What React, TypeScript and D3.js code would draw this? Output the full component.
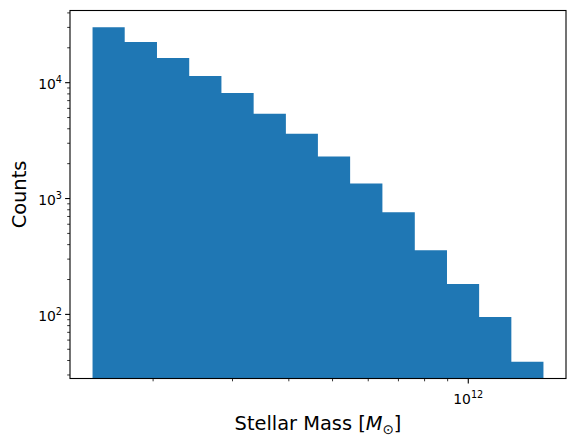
import * as d3 from "d3";

// histogram bin edges (solar masses), log-spaced
const BIN_EDGES = [
  1.468e11, 1.73e11, 2.04e11, 2.405e11, 2.835e11, 3.342e11, 3.94e11, 4.64e11,
  5.47e11, 6.45e11, 7.61e11, 8.97e11, 1.057e12, 1.246e12, 1.468e12,
];
// counts per bin
const COUNTS = [
  30100, 22400, 16300, 11400, 8150, 5380, 3630, 2300, 1350, 760, 358, 183, 95, 39,
];

const X_MAJOR = [1e12];
const X_MAJOR_EXP = ["12"];
const X_MINOR = [2e11, 3e11, 4e11, 5e11, 6e11, 7e11, 8e11, 9e11];
const Y_MAJOR = [1e2, 1e3, 1e4];
const Y_MAJOR_EXP = ["2", "3", "4"];
const Y_MINOR = [
  30, 40, 50, 60, 70, 80, 90, 200, 300, 400, 500, 600, 700, 800, 900, 2000,
  3000, 4000, 5000, 6000, 7000, 8000, 9000, 20000, 30000, 40000,
];

const W = 575;
const H = 445;
const LEFT = 70;
const RIGHT = 566;
const TOP = 10.5;
const BOTTOM = 378.5;
const BLUE = "#1f77b4";
const FONT = "'DejaVu Sans', sans-serif";

// matplotlib-style 5% margins in log space
function logDomain(lo: number, hi: number): [number, number] {
  const a = Math.log10(lo);
  const b = Math.log10(hi);
  const m = (b - a) * 0.05;
  return [10 ** (a - m), 10 ** (b + m)];
}

export default function App() {
  const x = d3
    .scaleLog()
    .domain(logDomain(BIN_EDGES[0], BIN_EDGES[BIN_EDGES.length - 1]))
    .range([LEFT, RIGHT]);
  const y = d3
    .scaleLog()
    .domain(logDomain(d3.min(COUNTS)!, d3.max(COUNTS)!))
    .range([BOTTOM, TOP]);

  const yMinorIn = Y_MINOR.filter((v) => y(v) <= BOTTOM && y(v) >= TOP);

  // one outline path for the whole histogram, so no seams between bars
  const path = d3.path();
  path.moveTo(x(BIN_EDGES[0]), BOTTOM);
  COUNTS.forEach((c, i) => {
    path.lineTo(x(BIN_EDGES[i]), y(c));
    path.lineTo(x(BIN_EDGES[i + 1]), y(c));
  });
  path.lineTo(x(BIN_EDGES[BIN_EDGES.length - 1]), BOTTOM);
  path.closePath();

  return (
    <svg
      width={W}
      height={H}
      style={{ position: "absolute", left: 0, top: 0, background: "#fff" }}
      fontFamily={FONT}
    >
      {/* bars */}
      <path d={path.toString()} fill={BLUE} />

      {/* frame */}
      <rect
        x={LEFT}
        y={TOP}
        width={RIGHT - LEFT}
        height={BOTTOM - TOP}
        fill="none"
        stroke="#000"
        strokeWidth={1.1}
      />

      {/* x ticks */}
      {X_MINOR.map((v) => (
        <line key={v} x1={x(v)} x2={x(v)} y1={BOTTOM} y2={BOTTOM + 2.8} stroke="#000" strokeWidth={0.8} />
      ))}
      {X_MAJOR.map((v, i) => (
        <g key={v}>
          <line x1={x(v)} x2={x(v)} y1={BOTTOM} y2={BOTTOM + 4.9} stroke="#000" strokeWidth={1.1} />
          <text x={x(v)} y={BOTTOM + 25} textAnchor="middle" fontSize={13.9} fill="#000">
            10
            <tspan fontSize={9.7} dy={-6}>
              {X_MAJOR_EXP[i]}
            </tspan>
          </text>
        </g>
      ))}

      {/* y ticks */}
      {yMinorIn.map((v) => (
        <line key={v} x1={LEFT} x2={LEFT - 2.8} y1={y(v)} y2={y(v)} stroke="#000" strokeWidth={0.8} />
      ))}
      {Y_MAJOR.map((v, i) => (
        <g key={v}>
          <line x1={LEFT} x2={LEFT - 4.9} y1={y(v)} y2={y(v)} stroke="#000" strokeWidth={1.1} />
          <text x={LEFT - 8} y={y(v) + 6.5} textAnchor="end" fontSize={13.9} fill="#000">
            10
            <tspan fontSize={9.7} dy={-6}>
              {Y_MAJOR_EXP[i]}
            </tspan>
          </text>
        </g>
      ))}

      {/* axis labels */}
      <text
        x={(LEFT + RIGHT) / 2}
        y={430}
        textAnchor="middle"
        fontSize={19.4}
        fill="#000"
      >
        Stellar Mass [
        <tspan fontStyle="italic">M</tspan>
        <tspan fontSize={13.5} dy={4}>⊙</tspan>
        <tspan dy={-4}>]</tspan>
      </text>
      <text
        transform={`translate(26,${(TOP + BOTTOM) / 2}) rotate(-90)`}
        textAnchor="middle"
        fontSize={19.4}
        fill="#000"
      >
        Counts
      </text>
    </svg>
  );
}
